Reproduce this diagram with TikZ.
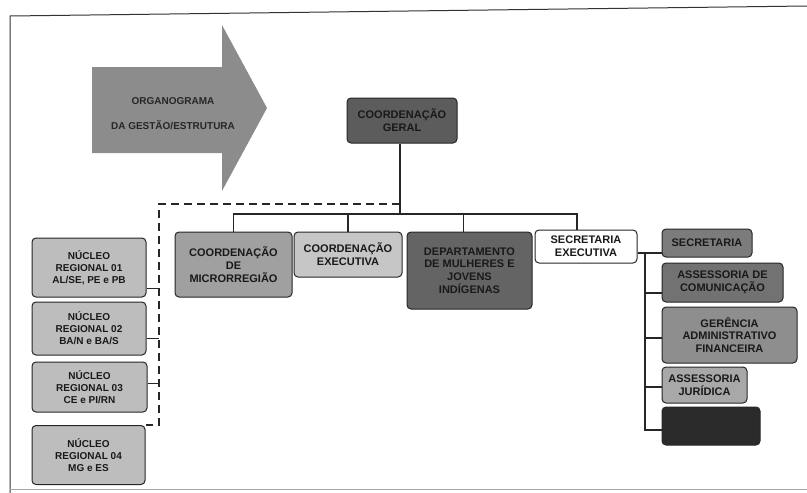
\documentclass[tikz,border=0pt]{standalone}
\usepackage{fontspec}
\setmainfont{Liberation Sans}
\usetikzlibrary{positioning}
\definecolor{cseta}{HTML}{8C8C8C}
\definecolor{cgeral}{HTML}{5C5C5C}
\definecolor{cmicro}{HTML}{A0A0A0}
\definecolor{cexec}{HTML}{C6C6C6}
\definecolor{cdepto}{HTML}{646464}
\definecolor{csecret}{HTML}{7C7C7C}
\definecolor{cascom}{HTML}{727272}
\definecolor{cgeren}{HTML}{8E8E8E}
\definecolor{cjur}{HTML}{A8A8A8}
\definecolor{cpreto}{HTML}{2B2B2B}
\definecolor{cnucleo}{HTML}{BDBDBD}
\tikzset{
  caixa/.style={draw=black!85, line width=1pt, rounded corners=4pt, align=center,
    inner sep=1pt, font=\bfseries\fontsize{11}{12.8}\selectfont, text=black!90},
  nucleo/.style={caixa, fill=cnucleo, font=\bfseries\fontsize{10}{12}\selectfont},
  liga/.style={line width=1.1pt, black!85},
  tracejado/.style={liga, dash pattern=on 8pt off 5pt},
}

\begin{document}
\begin{tikzpicture}[x=1pt, y=-1pt]
				    		\useasboundingbox (0,0) rectangle (807,493);
				    		% moldura
				    		\draw[black!80, line width=1pt] (10,493) -- (10,16) -- (807,6);
				    		\draw[black!35] (10,489) -- (807,489);
				    		% seta
				    		\fill[cseta] (92,67) -- (222,67) -- (222,25) -- (267,108) -- (222,191) -- (222,153) -- (92,153) -- cycle;
				    		\node[align=center, font=\bfseries\fontsize{10}{12}\selectfont, text=black!85] (titulo) at (173,114) {ORGANOGRAMA\\[13pt]DA GESTÃO/ESTRUTURA};
				    		% caixas
				    		\node[caixa, fill=cgeral, minimum width=110pt, minimum height=45pt] (geral) at (402,120.5) {COORDENAÇÃO\\GERAL};
				    		\node[caixa, fill=cmicro, minimum width=117pt, minimum height=65pt] (micro) at (233.5,264.5) {COORDENAÇÃO\\DE\\MICRORREGIÃO};
				    		\node[caixa, fill=cexec, minimum width=108pt, minimum height=45pt] (exec) at (348,254.5) {COORDENAÇÃO\\EXECUTIVA};
				    		\node[caixa, fill=cdepto, minimum width=125pt, minimum height=77pt] (depto) at (469.5,270.5) {DEPARTAMENTO\\DE MULHERES E\\JOVENS\\INDÍGENAS};
				    		\node[caixa, fill=white, minimum width=102pt, minimum height=33pt] (secexec) at (586,246.5) {SECRETARIA\\EXECUTIVA};
				    		\node[caixa, fill=csecret, minimum width=90pt, minimum height=28pt] (secret) at (707,243) {SECRETARIA};
				    		\node[caixa, fill=cascom, minimum width=121pt, minimum height=39pt] (ascom) at (722.5,282.5) {ASSESSORIA DE\\COMUNICAÇÃO};
				    		\node[caixa, fill=cgeren, minimum width=135pt, minimum height=56pt] (gerencia) at (729.5,335) {GERÊNCIA\\ADMINISTRATIVO\\FINANCEIRA};
				    		\node[caixa, fill=cjur, minimum width=85pt, minimum height=36pt] (asjur) at (704.5,385) {ASSESSORIA\\JURÍDICA};
				    		\node[caixa, fill=cpreto, minimum width=98pt, minimum height=38pt] (preto) at (711,426) {};
				    		\node[nucleo, minimum width=114pt, minimum height=59pt] (nuc1) at (89,267.5) {NÚCLEO\\REGIONAL 01\\AL/SE, PE e PB};
				    		\node[nucleo, minimum width=114pt, minimum height=53pt] (nuc2) at (89,328.5) {NÚCLEO\\REGIONAL 02\\BA/N e BA/S};
				    		\node[nucleo, minimum width=115pt, minimum height=50pt] (nuc3) at (89.5,387) {NÚCLEO\\REGIONAL 03\\CE e PI/RN};
				    		\node[nucleo, minimum width=113pt, minimum height=59pt] (nuc4) at (88.5,455) {NÚCLEO\\REGIONAL 04\\MG e ES};
				    		% ligacoes
				    		\coordinate (bus) at (400,214);
				    		\draw[liga] ([xshift=-2pt]geral.south) -- (bus);
				    		\draw[liga] (micro.north) |- (bus) -| ([xshift=-9pt]secexec.north);
				    		\draw[liga] (exec.north) -- (exec.north |- bus);
				    		\draw[liga] ([xshift=-6pt]depto.north) -- ([xshift=-6pt]depto.north |- bus);
				    		% tracejado dos nucleos
				    		\coordinate (tr) at (159,204);
				    		\draw[tracejado] (bus |- tr) -- (tr) -- (tr |- nuc4.north) -- (nuc4.north east);
				    		\coordinate (s1) at ([yshift=-21pt]nuc1.east);
				    		\coordinate (s2) at ([yshift=-10pt]nuc2.east);
				    		\coordinate (s3) at ([yshift=4pt]nuc3.east);
				    		\foreach \s in {s1, s2, s3}
				    			\draw[liga, line width=0.8pt] (\s) -- (tr |- \s);
				    		% secretaria executiva
				    		\coordinate (rv) at (645,253);
				    		\draw[liga] (secexec.east |- rv) -- (secret.west |- rv);
				    		\draw[liga] (rv) |- ([yshift=-4pt]preto.west);
				    		\draw[liga] (rv |- ascom.west) ++(0,10.5) -- ([yshift=-10.5pt]ascom.west);
				    		\draw[liga] (rv |- gerencia.west) ++(0,3) -- ([yshift=-3pt]gerencia.west);
				    		\draw[liga] (rv |- asjur.west) ++(0,2) -- ([yshift=-2pt]asjur.west);
				    	\end{tikzpicture}
\end{document}
